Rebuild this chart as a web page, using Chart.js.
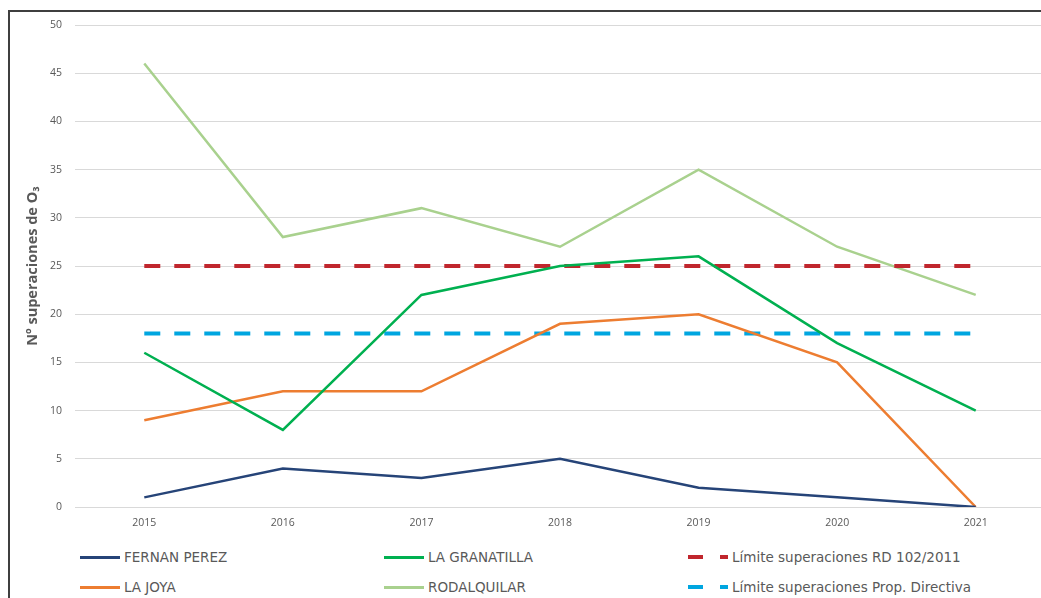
<!DOCTYPE html>
<html>
<head>
<meta charset="utf-8">
<script src="https://cdn.jsdelivr.net/npm/chart.js@4/dist/chart.umd.min.js"></script>
<style>
  body { margin: 0; background: #fff; overflow: hidden; font-family: "Open Sans", sans-serif; }
  #frame { position: absolute; left: 8px; top: 10px; width: 1100px; height: 620px;
           border-left: 2px solid #3f3f3f; border-top: 2px solid #3f3f3f; }
  #wrap { position: absolute; left: 0; top: 0; width: 1045px; height: 540px; }
  #legend { position: absolute; left: 0; top: 542px; width: 1041px; height: 60px; }
  .item { position: absolute; height: 30px; display: flex; align-items: center;
          font-family: "DejaVu Sans", sans-serif; font-size: 13.5px; color: #595959; white-space: nowrap; }
  .swatch { display: inline-block; height: 3px; margin-right: 4px; }
</style>
</head>
<body>
<div id="frame"></div>
<div id="wrap"><canvas id="myChart" width="1045" height="540"></canvas></div>
<div id="legend"></div>
<script>
Chart.defaults.font.family = "'Open Sans', sans-serif";
Chart.defaults.color = "#595959";

const years = ["2015", "2016", "2017", "2018", "2019", "2020", "2021"];
const fernanPerez = [1, 4, 3, 5, 2, 1, 0];
const laGranatilla = [16, 8, 22, 25, 26, 17, 10];
const laJoya = [9, 12, 12, 19, 20, 15, 0];
const rodalquilar = [46, 28, 31, 27, 35, 27, 22];
const limiteRD = [25, 25, 25, 25, 25, 25, 25];
const limiteDirectiva = [18, 18, 18, 18, 18, 18, 18];

// legend slots: column x and row
const legendSlots = [
	{ x: 80, row: 0 },
	{ x: 384, row: 0 },
	{ x: 688, row: 0 },
	{ x: 80, row: 1 },
	{ x: 384, row: 1 },
	{ x: 688, row: 1 },
];

function line(label, values, color) {
	return {
		label,
		data: values,
		borderColor: color,
		backgroundColor: color,
		borderWidth: 2.5,
		pointRadius: 0,
		tension: 0,
	};
}

function dashed(label, values, color) {
	return Object.assign(line(label, values, color), {
		borderWidth: 4,
		borderDash: [16, 14],
		borderCapStyle: "butt",
	});
}

const data = {
	labels: years,
	datasets: [
		line("FERNAN PEREZ", fernanPerez, "#264478"),
		line("LA GRANATILLA", laGranatilla, "#00b050"),
		dashed("Límite superaciones RD 102/2011", limiteRD, "#c0262d"),
		line("LA JOYA", laJoya, "#ed7d31"),
		line("RODALQUILAR", rodalquilar, "#a9d18e"),
		dashed("Límite superaciones Prop. Directiva", limiteDirectiva, "#00a6e0"),
	],
};

const htmlLegend = {
	id: "htmlLegend",
	afterUpdate(chart) {
		const box = document.getElementById("legend");
		box.innerHTML = "";
		chart.data.datasets.forEach((ds, i) => {
			const slot = legendSlots[i];
			const item = document.createElement("div");
			item.className = "item";
			item.style.left = slot.x + "px";
			item.style.top = slot.row * 30 + "px";
			if (ds.borderDash) {
				const a = document.createElement("span");
				a.className = "swatch";
				a.style.width = "15px";
				a.style.height = "4px";
				a.style.marginRight = "17px";
				a.style.background = ds.borderColor;
				const b = document.createElement("span");
				b.className = "swatch";
				b.style.width = "8px";
				b.style.height = "4px";
				b.style.background = ds.borderColor;
				item.appendChild(a);
				item.appendChild(b);
			} else {
				const s = document.createElement("span");
				s.className = "swatch";
				s.style.width = "40px";
				s.style.background = ds.borderColor;
				item.appendChild(s);
			}
			const t = document.createElement("span");
			t.textContent = ds.label;
			item.appendChild(t);
			box.appendChild(item);
		});
	},
};

const config = {
	type: "line",
	data,
	options: {
		responsive: false,
		animation: false,
		layout: {
			padding: { top: 25, right: 0, bottom: 0, left: 0 },
		},
		plugins: {
			legend: { display: false },
			tooltip: { enabled: false },
		},
		scales: {
			x: {
				offset: true,
				grid: { display: false, drawTicks: false },
				border: { display: false },
				ticks: {
					padding: 10,
					font: { size: 10.5 },
				},
				afterFit(scale) {
					scale.height = 33;
				},
			},
			y: {
				min: 0,
				max: 50,
				grid: { color: "#d9d9d9", lineWidth: 1, drawTicks: false },
				border: { display: false },
				ticks: {
					stepSize: 5,
					padding: 13,
					font: { size: 10.5 },
				},
				title: {
					display: true,
					text: "Nº superaciones de O₃",
					font: { size: 14.5, weight: "bold" },
					padding: { top: 24, bottom: 0 },
				},
				afterFit(scale) {
					scale.width = 75;
				},
			},
		},
	},
	plugins: [htmlLegend],
};

const ctx = document.getElementById("myChart").getContext("2d");
new Chart(ctx, config);
</script>
</body>
</html>
